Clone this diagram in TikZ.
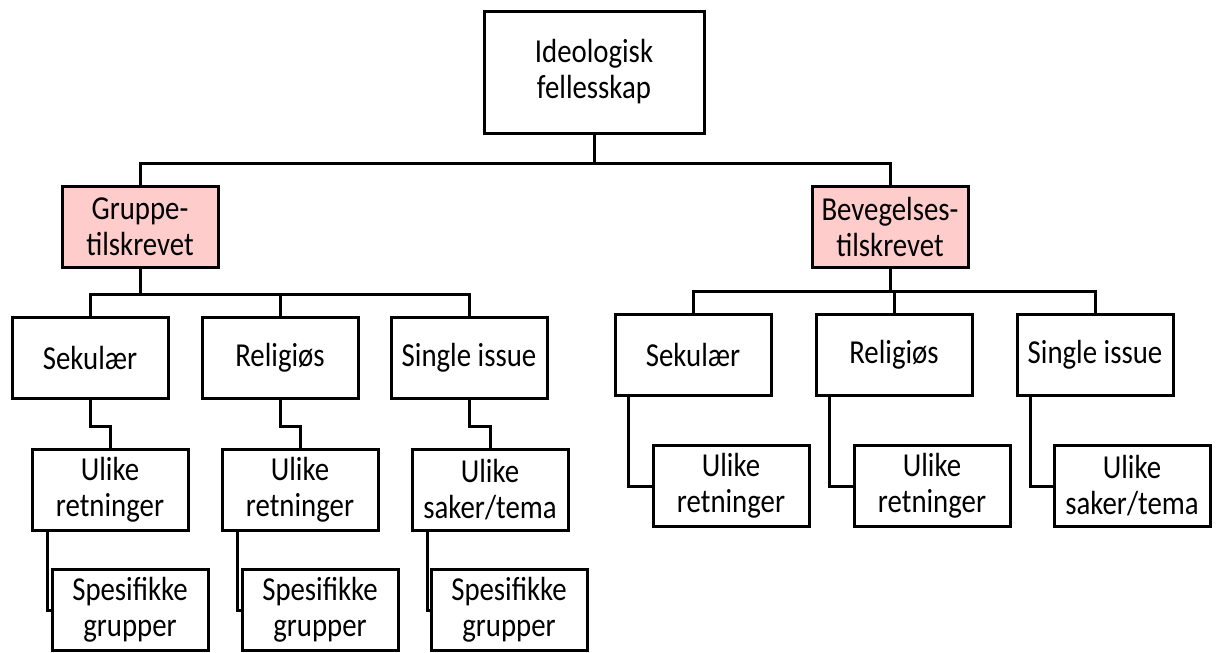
\documentclass[tikz,border=0pt]{standalone}
\usepackage{fontspec}
\setmainfont[FakeStretch=0.86]{Carlito}
\usetikzlibrary{positioning}
\definecolor{boxpink}{RGB}{255,204,204}
\tikzset{
  org/.style={draw, line width=3pt, inner sep=0pt, align=center,
    font=\fontsize{33.5}{36}\selectfont},
  topbox/.style={org, minimum width=220, minimum height=122},
  kind/.style={org, fill=boxpink, minimum width=156, minimum height=81},
  sub/.style={org, minimum width=156, minimum height=81},
  link/.style={line width=3pt}
}
\begin{document}
\begin{tikzpicture}[x=1pt,y=-1pt]
\useasboundingbox (0,0) rectangle (1216,653);
\node[topbox] (top) at (594,72) {Ideologisk\\fellesskap};
\node[kind] (gruppe) at (140,227) {Gruppe-\\tilskrevet};
\node[kind] (bev) at (890,227) {Bevegelses-\\tilskrevet};
% gruppe
\node[sub] (gsek) at (90,358) {Sekulær};
\node[sub] (grel) at (280,358) {Religiøs};
\node[sub] (gsin) at (469,358) {Single issue};
\node[sub] (gsekU) at (110,490) {Ulike\\retninger};
\node[sub] (grelU) at (300,490) {Ulike\\retninger};
\node[sub] (gsinU) at (490,490) {Ulike\\saker/tema};
\node[sub] (gsekS) at (130,610) {Spesifikke\\grupper};
\node[sub] (grelS) at (320,610) {Spesifikke\\grupper};
\node[sub] (gsinS) at (509,610) {Spesifikke\\grupper};
% bevegelse
\node[sub] (bsek) at (693,355) {Sekulær};
\node[sub] (brel) at (894,355) {Religiøs};
\node[sub] (bsin) at (1095,355) {Single issue};
\node[sub] (bsekU) at (731,486) {Ulike\\retninger};
\node[sub] (brelU) at (932,486) {Ulike\\retninger};
\node[sub] (bsinU) at (1132,486) {Ulike\\saker/tema};

\draw[link] (top.south) -- ++(0,29) -| (gruppe.north);
\draw[link] (top.south) -- ++(0,29) -| (bev.north);
\foreach \n in {gsek,grel,gsin}
  \draw[link] (gruppe.south) -- ++(0,25) -| (\n.north);
\foreach \n in {bsek,brel,bsin}
  \draw[link] (bev.south) -- ++(0,22) -| (\n.north);
\foreach \n in {gsek,grel,gsin}{
  \draw[link] (\n.south) -- ++(0,26) -| (\n U.north);
  \draw[link] ([xshift=17pt]\n U.south west) |- (\n S.west);
}
\foreach \n in {bsek,brel,bsin}
  \draw[link] ([xshift=15pt]\n.south west) |- (\n U.west);
\end{tikzpicture}
\end{document}
